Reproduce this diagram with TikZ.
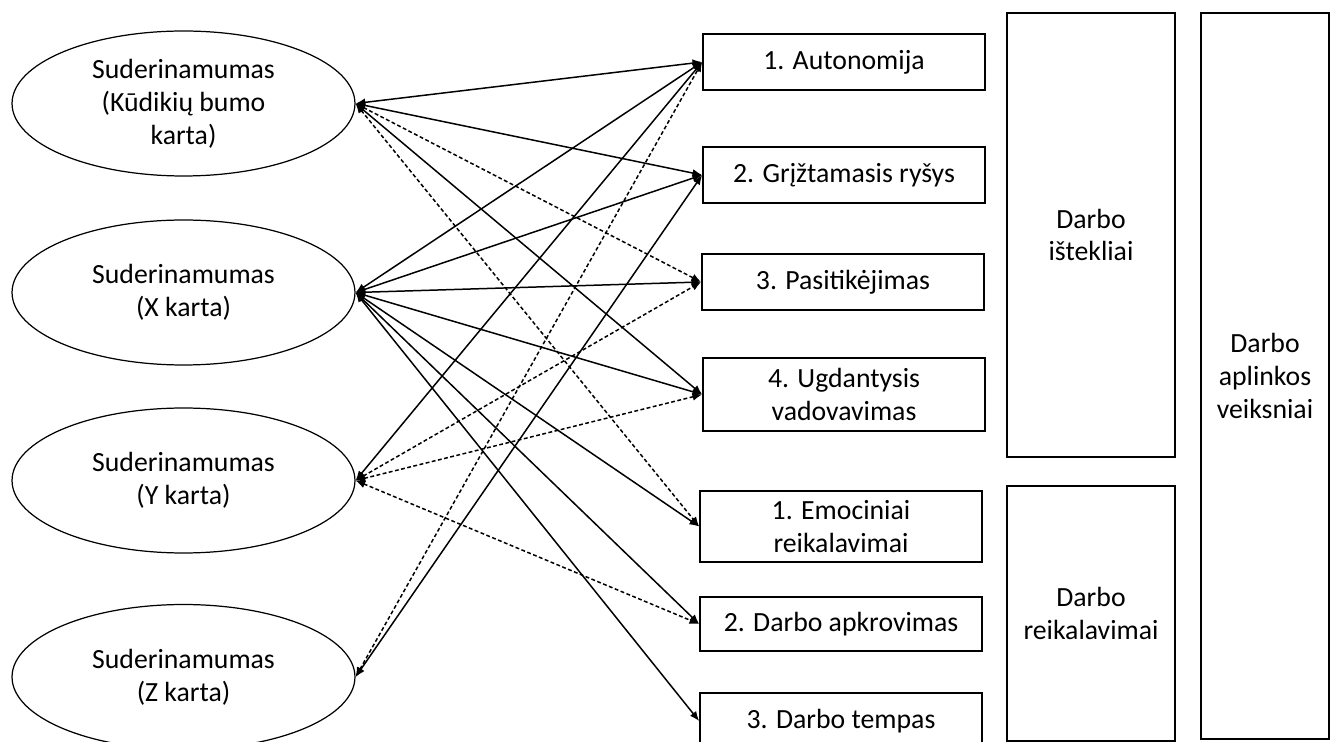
\documentclass[tikz,border=0pt]{standalone}
\usepackage{fontspec}
\setmainfont{Carlito}
\usepackage{tikz}
\usetikzlibrary{shapes.geometric,arrows.meta}

\begin{document}
\begin{tikzpicture}[x=0.02cm,y=0.02cm]
\tikzstyle{every node}+=[inner sep=0pt,font=\fontsize{15.8}{18.7}\selectfont,align=center]
\tikzstyle{gen}=[draw,ellipse,line width=0.7pt,minimum width=6.86cm,minimum height=2.9cm]
\tikzstyle{factor}=[draw,rectangle,line width=1pt,minimum width=5.64cm]
\tikzstyle{group}=[draw,rectangle,line width=1pt]
\tikzstyle{link}=[{Latex[length=5.5pt,width=4.5pt]}-{Latex[length=5.5pt,width=4.5pt]},line width=0.85pt]
\tikzstyle{weak}=[link,dash pattern=on 2.2pt off 1.4pt]
\useasboundingbox (0,0) rectangle (1331,-742);
\clip (0,0) rectangle (1331,-742);
% generations
\node [gen] (E1) at (183.5,-103.5) {Suderinamumas\\(Kūdikių bumo\\karta)};
\node [gen] (E2) at (183.5,-292.5) {Suderinamumas\\(X karta)};
\node [gen] (E3) at (183.5,-480.5) {Suderinamumas\\(Y karta)};
\node [gen] (E4) at (183.5,-677) {Suderinamumas\\(Z karta)};
% job resources
\node [factor,minimum height=1.12cm] (A1) at (844,-62) {1. Autonomija};
\node [factor,minimum height=1.12cm] (A2) at (844,-175) {2. Grįžtamasis ryšys};
\node [factor,minimum height=1.12cm] (A3) at (843,-282) {3. Pasitikėjimas};
\node [factor,minimum height=1.46cm] (A4) at (844,-394.5) {4. Ugdantysis\\vadovavimas};
% job demands
\node [factor,minimum height=1.42cm] (D1) at (841,-526.5) {1. Emociniai\\reikalavimai};
\node [factor,minimum height=1.08cm] (D2) at (841,-624) {2. Darbo apkrovimas};
\node [factor,minimum height=1.12cm] (D3) at (841,-721) {3. Darbo tempas};
% groups
\node [group,minimum width=3.36cm,minimum height=8.88cm] (R) at (1091,-235) {Darbo\\ištekliai};
\node [group,minimum width=3.36cm,minimum height=5.1cm] (Q) at (1091,-613.5) {Darbo\\reikalavimai};
\node [group,minimum width=2.57cm,minimum height=14.52cm] (W) at (1265,-376) {Darbo\\aplinkos\\veiksniai};
% links
\draw [link] (E1.east) -- (A1.west);
\draw [link] (E1.east) -- (A2.west);
\draw [weak] (E1.east) -- (A3.west);
\draw [link] (E1.east) -- (A4.west);
\draw [weak] (E1.east) -- (D1.west);
\draw [link] (E2.east) -- (A1.west);
\draw [link] (E2.east) -- (A2.west);
\draw [link] (E2.east) -- (A3.west);
\draw [link] (E2.east) -- (A4.west);
\draw [link] (E2.east) -- (D1.west);
\draw [link] (E2.east) -- (D2.west);
\draw [link] (E2.east) -- (D3.west);
\draw [link] (E3.east) -- (A1.west);
\draw [weak] (E3.east) -- (A3.west);
\draw [weak] (E3.east) -- (A4.west);
\draw [weak] (E3.east) -- (D2.west);
\draw [weak] (E4.east) -- (A1.west);
\draw [link] (E4.east) -- (A2.west);
\end{tikzpicture}
\end{document}
